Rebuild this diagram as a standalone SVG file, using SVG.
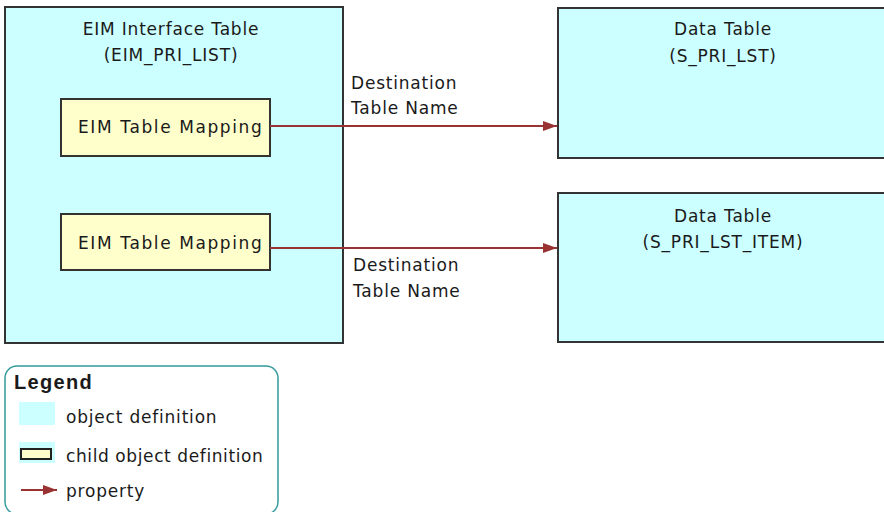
<svg xmlns="http://www.w3.org/2000/svg" width="884" height="512" viewBox="0 0 884 512">
<style>
.obj{fill:#CCFFFF;stroke:#333;stroke-width:2}
.child{fill:#FFFFCC;stroke:#333;stroke-width:2}
text{font-family:"DejaVu Sans",Verdana,sans-serif;font-size:17px;fill:#1a1a1a;letter-spacing:0.8px}
.c{text-anchor:middle}
.m{letter-spacing:1.6px}
.edge{stroke:#993333;stroke-width:2;fill:none}
</style>
<defs>
<marker id="ah" markerWidth="14" markerHeight="12" refX="14" refY="6" orient="auto" markerUnits="userSpaceOnUse">
<path d="M0,1 L14,6 L0,11 Z" fill="#993333"/>
</marker>
</defs>
<rect width="884" height="512" fill="#fff"/>
<g id="eim_interface_table">
<rect class="obj" x="5" y="7" width="338" height="336"/>
<text class="c" x="171" y="35">EIM Interface Table</text>
<text class="c" x="171" y="61">(EIM_PRI_LIST)</text>
</g>
<g id="mapping1">
<rect class="child" x="61" y="99" width="209" height="57"/>
<text class="m" x="78" y="133">EIM Table Mapping</text>
</g>
<g id="mapping2">
<rect class="child" x="61" y="214" width="209" height="56"/>
<text class="m" x="78" y="249">EIM Table Mapping</text>
</g>
<g id="s_pri_lst">
<rect class="obj" x="558" y="8" width="340" height="150"/>
<text class="c" x="723" y="35">Data Table</text>
<text class="c" x="723" y="62">(S_PRI_LST)</text>
</g>
<g id="s_pri_lst_item">
<rect class="obj" x="558" y="193" width="340" height="149"/>
<text class="c" x="723" y="222">Data Table</text>
<text class="c" x="723" y="248">(S_PRI_LST_ITEM)</text>
</g>
<g id="connectors">
<line class="edge" x1="270" y1="126" x2="557" y2="126" marker-end="url(#ah)"/>
<line class="edge" x1="270" y1="248" x2="557" y2="248" marker-end="url(#ah)"/>
<text x="351" y="89">Destination</text>
<text x="351" y="114">Table Name</text>
<text x="353" y="271">Destination</text>
<text x="353" y="297">Table Name</text>
</g>
<g id="legend">
<rect x="5" y="366" width="273" height="148" rx="12" fill="#fff" stroke="#339999" stroke-width="1.5"/>
<text x="14" y="389" style="font-family:'Liberation Sans',Arial,sans-serif;font-weight:bold;font-size:20px;letter-spacing:1.3px">Legend</text>
<rect x="19" y="402" width="36" height="23" fill="#CCFFFF"/>
<text x="66" y="423">object definition</text>
<rect x="19" y="442" width="36" height="21" fill="#CCFFFF"/>
<rect x="21" y="449" width="30" height="10" fill="#FFFFCC" stroke="#222" stroke-width="2"/>
<text x="66" y="462" style="letter-spacing:0.6px">child object definition</text>
<line class="edge" x1="21" y1="490" x2="57" y2="490" marker-end="url(#ah)"/>
<text x="66" y="497">property</text>
</g>
</svg>
